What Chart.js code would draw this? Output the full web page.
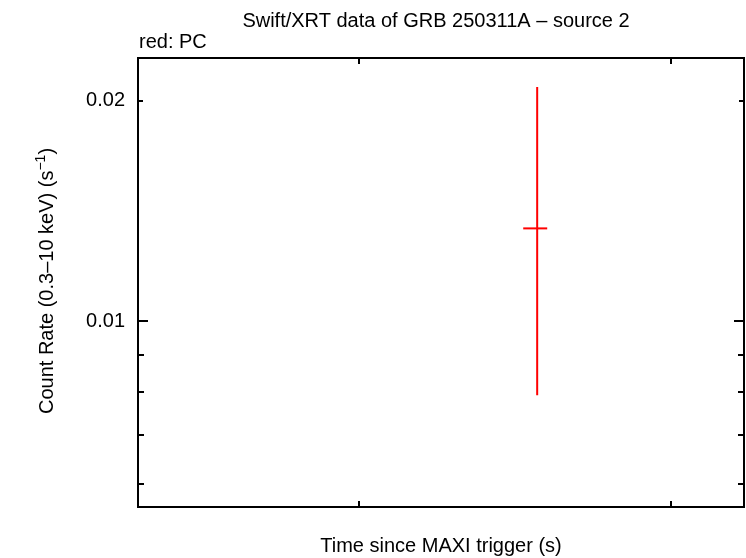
<!DOCTYPE html>
<html>
<head>
<meta charset="utf-8">
<script src="https://cdn.jsdelivr.net/npm/chart.js@4"></script>
<style>
  html, body { margin: 0; padding: 0; background: #fff; }
  canvas { display: block; }
</style>
</head>
<body>
<canvas id="lc" width="746" height="558"></canvas>
<script>
// one PC-mode bin
const binTime = [372700];
const binTimeLo = [336100];
const binTimeHi = [401400];
const binRate = [0.01339];
const binRateLo = [0.00793];
const binRateHi = [0.02088];

const yTickValues = [0.006, 0.007, 0.008, 0.009, 0.01, 0.02];
const yTickLabels = ['', '', '', '', '0.01', '0.02'];
const yTickLength = [6, 6, 6, 6, 10, 5];
const xTickValues = [1e5, 1e6];

const FONT = '"Liberation Sans", Arial, Helvetica, sans-serif';
const red = '#ff0000';

const datasets = [];
binTime.forEach(function (t, i) {
    datasets.push({
        data: [{ x: t, y: binRateLo[i] }, { x: t, y: binRateHi[i] }],
    });
    datasets.push({
        data: [{ x: binTimeLo[i], y: binRate[i] }, { x: binTimeHi[i], y: binRate[i] }],
    });
});
datasets.forEach(function (d) {
    d.showLine = true;
    d.borderColor = red;
    d.borderWidth = 2;
    d.pointRadius = 0;
    d.borderCapStyle = 'butt';
});

const frame = {
    id: 'frame',
    afterDatasetsDraw(chart) {
        const { ctx, chartArea: a, scales } = chart;
        ctx.save();
        ctx.strokeStyle = '#000';
        ctx.lineWidth = 2;
        ctx.strokeRect(a.left, a.top, a.right - a.left, a.bottom - a.top);

        ctx.beginPath();
        yTickValues.forEach(function (v, i) {
            const py = Math.round(scales.y.getPixelForValue(v));
            ctx.moveTo(a.left, py);
            ctx.lineTo(a.left + yTickLength[i], py);
            ctx.moveTo(a.right, py);
            ctx.lineTo(a.right - yTickLength[i], py);
        });
        xTickValues.forEach(function (v) {
            const px = Math.round(scales.x.getPixelForValue(v));
            ctx.moveTo(px, a.bottom);
            ctx.lineTo(px, a.bottom - 6);
            ctx.moveTo(px, a.top);
            ctx.lineTo(px, a.top + 6);
        });
        ctx.stroke();

        ctx.fillStyle = '#000';
        ctx.font = '20px ' + FONT;
        ctx.textBaseline = 'alphabetic';
        ctx.textAlign = 'center';
        ctx.fillText('Swift/XRT data of GRB 250311A \u2013 source 2', 436, 27);
        ctx.fillText('Time since MAXI trigger (s)', 441, 552);
        ctx.textAlign = 'left';
        ctx.fillText('red: PC', 139, 48);

        // y title with superscript
        const partA = 'Count Rate (0.3\u201310 keV) (s';
        const partB = '\u22121';
        const partC = ')';
        const wA = ctx.measureText(partA).width;
        const wC = ctx.measureText(partC).width;
        ctx.font = '14px ' + FONT;
        const wB = ctx.measureText(partB).width;
        const total = wA + wB + wC;
        ctx.translate(53, 281);
        ctx.rotate(-Math.PI / 2);
        const x0 = -total / 2;
        ctx.font = '20px ' + FONT;
        ctx.fillText(partA, x0, 0);
        ctx.font = '14px ' + FONT;
        ctx.fillText(partB, x0 + wA, -8);
        ctx.font = '20px ' + FONT;
        ctx.fillText(partC, x0 + wA + wB, 0);
        ctx.restore();
    },
};

new Chart(document.getElementById('lc'), {
    type: 'scatter',
    data: { datasets: datasets },
    options: {
        responsive: false,
        animation: false,
        layout: { padding: { left: 0, top: 58, right: 2, bottom: 0 } },
        plugins: {
            legend: { display: false },
            tooltip: { enabled: false },
        },
        scales: {
            x: {
                type: 'logarithmic',
                min: 19430,
                max: 1.722e6,
                ticks: { display: false },
                grid: { display: false, drawTicks: false },
                border: { display: false },
                afterFit(s) { s.height = 51; },
            },
            y: {
                type: 'logarithmic',
                min: 0.00558,
                max: 0.02287,
                afterBuildTicks(s) {
                    s.ticks = yTickValues.map(function (v) { return { value: v }; });
                },
                ticks: {
                    autoSkip: false,
                    padding: 13,
                    color: '#000',
                    font: { family: FONT, size: 20 },
                    callback: function (v, i) { return yTickLabels[i]; },
                },
                grid: { display: false, drawTicks: false },
                border: { display: false },
                afterFit(s) { s.width = 138; },
            },
        },
    },
    plugins: [frame],
});
</script>
</body>
</html>
